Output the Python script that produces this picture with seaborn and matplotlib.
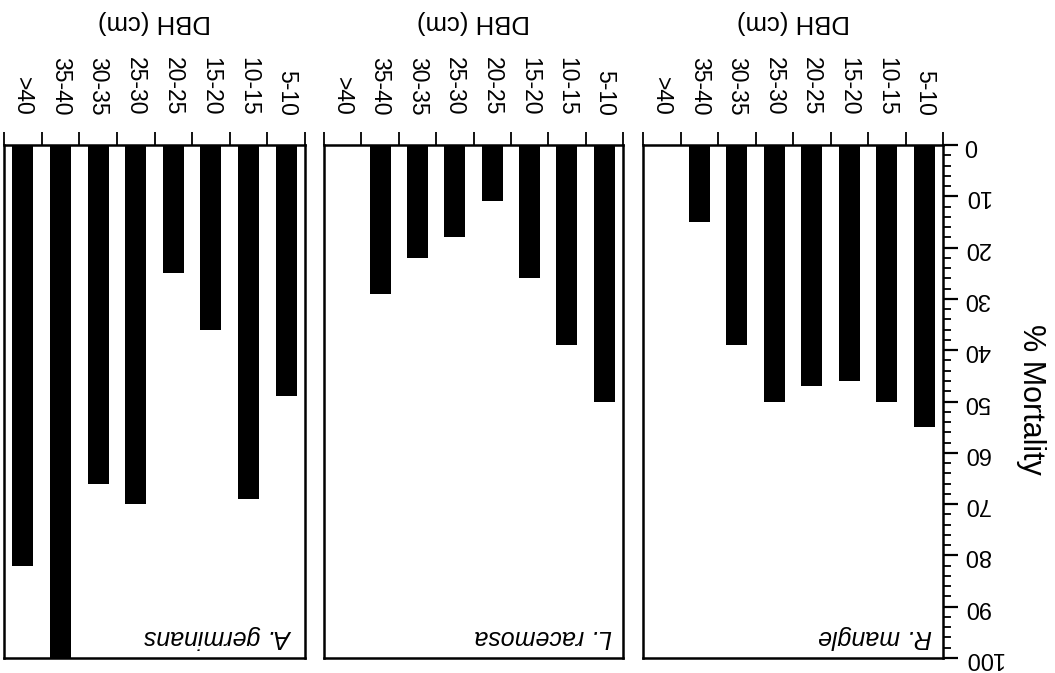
import numpy as np
import pandas as pd
import matplotlib
matplotlib.use("Agg")
import matplotlib.pyplot as plt
import seaborn as sns
from matplotlib.ticker import MultipleLocator

# ---- data ----
dbh_classes = [">40", "35-40", "30-35", "25-30", "20-25", "15-20", "10-15", "5-10"]
species = ["A. germinans", "L. racemosa", "R. mangle"]
mort_a_germinans = [82, 100, 66, 70, 25, 36, 69, 49]
mort_l_racemosa = [0, 29, 22, 18, 11, 26, 39, 50]
mort_r_mangle = [0, 15, 39, 50, 47, 46, 50, 55]
mortality_ticks = [0, 10, 20, 30, 40, 50, 60, 70, 80, 90, 100]
mortality_labels = ["0", "10", "20", "30", "40", "50", "60", "70", "80", "90", "100"]

sns.set_theme(style="ticks")
plt.rcParams["font.family"] = ["Liberation Sans", "DejaVu Sans"]

W, H = 1055, 673
fig = plt.figure(figsize=(W / 100, H / 100), dpi=100)
fig.patch.set_facecolor("white")

panels = [(4, 301), (324, 299), (643, 300)]
top_px, bot_px = 145, 658
series = [mort_a_germinans, mort_l_racemosa, mort_r_mangle]

for i, (sp, vals, (lx, w)) in enumerate(zip(species, series, panels)):
    ax = fig.add_axes([lx / W, 1 - bot_px / H, w / W, (bot_px - top_px) / H])
    df = pd.DataFrame({"DBH": dbh_classes, "Mortality": vals})
    sns.barplot(data=df, x="DBH", y="Mortality", order=dbh_classes,
                color="black", saturation=1, width=0.56, ax=ax,
                edgecolor="black", linewidth=0)
    ax.set_ylim(100, 0)
    ax.set_xlim(-0.5, 7.5)
    ax.set_xlabel("")
    ax.set_ylabel("")
    ax.set_facecolor("white")
    for s in ax.spines.values():
        s.set_visible(True)
        s.set_linewidth(1.8)
        s.set_color("black")

    # category axis on top
    ax.xaxis.tick_top()
    ax.set_xticks(range(len(dbh_classes)))
    ax.set_xticklabels(dbh_classes, rotation=-90, va="bottom", ha="center")
    ax.set_xticks(np.arange(-0.5, len(dbh_classes), 1.0), minor=True)
    ax.tick_params(axis="x", which="major", length=0, pad=21, labelsize=16.5,
                   top=True, labeltop=True, bottom=False, labelbottom=False,
                   colors="black")
    ax.tick_params(axis="x", which="minor", length=9.5, width=1.3,
                   direction="out", top=True, bottom=False, color="black")

    if i < 2:
        ax.set_yticks([])
        ax.tick_params(axis="y", which="both", left=False, right=False,
                       labelleft=False, labelright=False)
    else:
        ax.yaxis.tick_right()
        ax.set_yticks(mortality_ticks)
        ax.set_yticklabels(mortality_labels)
        ax.yaxis.set_minor_locator(MultipleLocator(2))
        ax.tick_params(axis="y", which="major", length=11, width=1.6,
                       direction="out", pad=4, labelsize=17, labelrotation=180,
                       left=False, right=True, labelleft=False, labelright=True,
                       colors="black")
        ax.tick_params(axis="y", which="minor", length=6, width=1.3,
                       direction="out", left=False, right=True, color="black")
        for lbl in ax.get_yticklabels():
            lbl.set_va("center")

    # species name (upside down, italic)
    ax.text(0.962, 0.041, sp, transform=ax.transAxes, rotation=180,
            ha="right", va="center", style="italic", fontsize=18, color="black")

    # DBH label above each panel (upside down)
    fig.text((lx + w / 2) / W, 1 - 22 / H, "DBH (cm)", rotation=180,
             ha="center", va="center", fontsize=18.5, color="black")

fig.text(1031 / W, 1 - 399 / H, "% Mortality", rotation=-90,
         ha="center", va="center", fontsize=22, color="black")

fig.savefig("out.png", dpi=100, facecolor="white")
